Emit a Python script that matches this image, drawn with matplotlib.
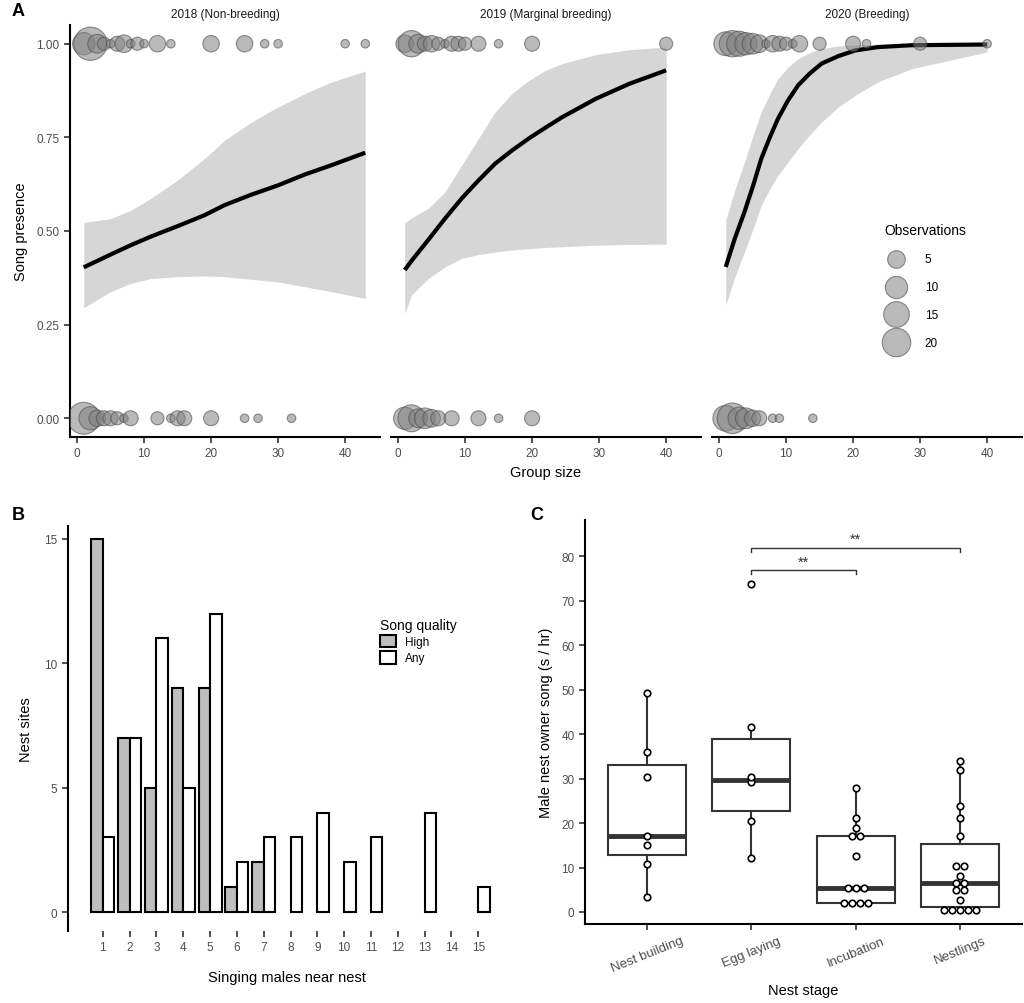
import numpy as np
import matplotlib
matplotlib.use('Agg')
import matplotlib.pyplot as plt
from matplotlib.patches import Patch

plt.rcParams['font.family'] = ['Liberation Sans', 'DejaVu Sans']

# ---------- panel A data ----------
years = ['2018 (Non-breeding)', '2019 (Marginal breeding)', '2020 (Breeding)']

fit18_x = [1, 5, 8, 11, 15, 19, 22, 26, 30, 34, 38, 43]
fit18_y = [0.403, 0.437, 0.462, 0.485, 0.513, 0.542, 0.569, 0.597, 0.622, 0.651, 0.676, 0.709]
fit18_hi = [0.523, 0.533, 0.555, 0.587, 0.636, 0.693, 0.742, 0.791, 0.831, 0.867, 0.898, 0.927]
fit18_lo = [0.295, 0.338, 0.360, 0.373, 0.378, 0.380, 0.378, 0.371, 0.364, 0.351, 0.338, 0.320]

fit19_x = [1, 2, 4.5, 7, 9.5, 12, 14.5, 17, 19.5, 22, 24.5, 29.5, 34.5, 40]
fit19_y = [0.396, 0.42, 0.476, 0.533, 0.587, 0.635, 0.680, 0.715, 0.747, 0.776, 0.804,
           0.853, 0.893, 0.929]
fit19_hi = [0.522, 0.535, 0.560, 0.604, 0.676, 0.747, 0.818, 0.867, 0.902, 0.929, 0.947,
            0.971, 0.984, 0.991]
fit19_lo = [0.280, 0.329, 0.373, 0.404, 0.427, 0.437, 0.444, 0.449, 0.453, 0.456, 0.458,
            0.462, 0.464, 0.465]

fit20_x = [1, 2.35, 3.8, 5.1, 6.3, 7.6, 8.8, 10.3, 11.8, 13.5, 15.3, 17.8, 20.3, 23.7, 28.7, 40]
fit20_y = [0.404, 0.480, 0.551, 0.622, 0.693, 0.751, 0.800, 0.849, 0.889, 0.920, 0.947,
           0.967, 0.982, 0.991, 0.996, 0.998]
fit20_hi = [0.529, 0.609, 0.684, 0.756, 0.818, 0.867, 0.907, 0.938, 0.960, 0.976, 0.987,
            0.994, 0.997, 0.999, 0.999, 0.999]
fit20_lo = [0.302, 0.377, 0.444, 0.507, 0.569, 0.613, 0.649, 0.684, 0.720, 0.756, 0.791,
            0.831, 0.862, 0.898, 0.933, 0.978]

# observations: group size, number of observations
yes18_x = [1, 2, 3, 4, 5, 6, 7, 8, 9, 10, 12, 14, 20, 25, 28, 30, 40, 43]
yes18_n = [10, 30, 6, 2, 1, 3, 5, 1, 2, 1, 4, 1, 4, 4, 1, 1, 1, 1]
no18_x = [1, 2, 3, 4, 5, 6, 7, 8, 12, 14, 15, 16, 20, 25, 27, 32]
no18_n = [27, 11, 4, 3, 3, 2, 1, 3, 2, 1, 3, 3, 3, 1, 1, 1]

yes19_x = [1, 2, 3, 4, 5, 6, 7, 8, 9, 10, 12, 15, 20, 40]
yes19_n = [5, 16, 6, 3, 4, 2, 1, 3, 3, 2, 3, 1, 3, 2]
no19_x = [1, 2, 3, 4, 5, 6, 8, 12, 15, 20]
no19_n = [10, 17, 6, 8, 5, 3, 3, 3, 1, 3]

yes20_x = [1, 2, 3, 4, 5, 6, 7, 8, 9, 10, 11, 12, 15, 20, 22, 30, 40]
yes20_n = [12, 16, 14, 10, 8, 5, 1, 4, 3, 2, 1, 4, 2, 3, 1, 2, 1]
no20_x = [1, 2, 3, 4, 5, 6, 8, 9, 14]
no20_n = [15, 24, 10, 8, 4, 3, 1, 1, 1]

legend_n = [5, 10, 15, 20]

# ---------- panel B data ----------
singers = list(range(1, 16))
high_q = [15, 7, 5, 9, 9, 1, 2, 0, 0, 0, 0, 0, 0, 0, 0]
any_q = [3, 7, 11, 5, 12, 2, 3, 3, 4, 2, 3, 0, 4, 0, 1]

# ---------- panel C data ----------
stages = ['Nest building', 'Egg laying', 'Incubation', 'Nestlings']
song_build = [3.3, 10.7, 15.0, 17.2, 30.3, 35.9, 49.2]
song_egg = [12.1, 20.5, 29.2, 30.4, 41.7, 73.7]
song_incub = [2.1, 2.1, 2.1, 2.1, 5.5, 5.5, 5.5, 12.7, 17.1, 17.1, 18.9, 21.1, 27.9]
song_nestl = [0.5, 0.5, 0.5, 0.5, 0.5, 2.8, 5.0, 5.0, 6.6, 6.6, 8.1, 10.3, 10.3,
              17.1, 21.1, 23.8, 32.0, 33.9]

DPI = 100
fig = plt.figure(figsize=(10.24, 10.04), dpi=DPI)

tick_col = '#4D4D4D'
line_col = '#333333'


def msize(n):
    d_px = 8.5 + 4.6 * np.sqrt(np.asarray(n, float) - 1)
    return (d_px * 72 / DPI) ** 2


def style_ax(ax):
    for s in ['top', 'right']:
        ax.spines[s].set_visible(False)
    for s in ['left', 'bottom']:
        ax.spines[s].set_linewidth(1.5)
        ax.spines[s].set_color('black')
    ax.tick_params(colors=line_col, labelcolor=tick_col, labelsize=8.5, length=4, width=1.2)


# ---------- panel A ----------
fits = [(fit18_x, fit18_y, fit18_lo, fit18_hi),
        (fit19_x, fit19_y, fit19_lo, fit19_hi),
        (fit20_x, fit20_y, fit20_lo, fit20_hi)]
obs = [(yes18_x, yes18_n, no18_x, no18_n),
       (yes19_x, yes19_n, no19_x, no19_n),
       (yes20_x, yes20_n, no20_x, no20_n)]
lefts = [70, 391, 712]
axA = []
for i in range(3):
    ax = fig.add_axes([lefts[i] / 1024, 1 - 438 / 1004, 310 / 1024, 412 / 1004])
    style_ax(ax)
    fx, fy, flo, fhi = fits[i]
    ax.fill_between(fx, flo, fhi, color='#D6D6D6', lw=0, zorder=1)
    ax.plot(fx, fy, color='black', lw=3, solid_capstyle='butt', solid_joinstyle='round',
            zorder=2)
    yx, yn, nx, nn = obs[i]
    for xs, ns, yv in [(yx, yn, 1.0), (nx, nn, 0.0)]:
        ax.scatter(xs, [yv] * len(xs), s=msize(ns), facecolor=(0.5, 0.5, 0.5, 0.55),
                   edgecolor=(0.3, 0.3, 0.3, 0.6), lw=0.8, zorder=3)
    ax.set_xlim(-1.05, 45.2)
    ax.set_ylim(-0.05, 1.05)
    ax.set_xticks([0, 10, 20, 30, 40])
    ax.set_yticks([0, 0.25, 0.5, 0.75, 1.0])
    ax.set_title(years[i], fontsize=8.5, pad=6, color='#1A1A1A')
    if i == 0:
        ax.set_yticklabels(['0.00', '0.25', '0.50', '0.75', '1.00'])
        ax.set_ylabel('Song presence', fontsize=10.5, labelpad=6)
    else:
        ax.spines['left'].set_visible(False)
        ax.tick_params(axis='y', left=False, labelleft=False)
    if i == 1:
        ax.set_xlabel('Group size', fontsize=10.5, labelpad=4)
    axA.append(ax)

handles = [axA[2].scatter([], [], s=msize(n), facecolor=(0.5, 0.5, 0.5, 0.55),
                          edgecolor=(0.3, 0.3, 0.3, 0.6), lw=0.8) for n in legend_n]
leg = axA[2].legend(handles, [str(n) for n in legend_n], title='Observations',
                    loc='upper left', bbox_to_anchor=(0.53, 0.54), frameon=False,
                    fontsize=8.5, title_fontsize=10, labelspacing=1.35, handletextpad=1.4,
                    borderpad=0.2)
leg._legend_box.align = 'left'

# ---------- panel B ----------
axB = fig.add_axes([68 / 1024, 1 - 932 / 1004, 437 / 1024, 405 / 1004])
style_ax(axB)
axB.spines['bottom'].set_visible(False)
xs = np.array(singers)
hq = np.array(high_q)
aq = np.array(any_q)
w = 0.43
axB.bar(xs[hq > 0] - w / 2, hq[hq > 0], width=w, color='#BEBEBE', edgecolor='black', lw=1.5)
axB.bar(xs[aq > 0] + w / 2, aq[aq > 0], width=w, color='white', edgecolor='black', lw=1.5)
axB.set_xlim(-0.3, 16.0)
axB.set_ylim(-0.76, 15.52)
axB.set_xticks(singers)
axB.set_yticks([0, 5, 10, 15])
axB.set_xlabel('Singing males near nest', fontsize=10.5, labelpad=12)
axB.set_ylabel('Nest sites', fontsize=10.5, labelpad=8)
legB = axB.legend([Patch(facecolor='#BEBEBE', edgecolor='black', lw=1.5),
                   Patch(facecolor='white', edgecolor='black', lw=1.5)],
                  ['High', 'Any'], title='Song quality', loc='upper left',
                  bbox_to_anchor=(0.69, 0.80), frameon=False, fontsize=8.5,
                  title_fontsize=10, handlelength=1.3, handleheight=1.3,
                  labelspacing=0.25, handletextpad=0.8)
legB._legend_box.align = 'left'

# ---------- panel C ----------
axC = fig.add_axes([585 / 1024, 1 - 925 / 1004, 437 / 1024, 404 / 1004])
style_ax(axC)
groups = [song_build, song_egg, song_incub, song_nestl]
pos = [1, 2, 3, 4]
axC.boxplot(groups, positions=pos, widths=0.75, showfliers=False, showcaps=False,
            patch_artist=True,
            boxprops=dict(facecolor='white', edgecolor=line_col, lw=1.5),
            whiskerprops=dict(color=line_col, lw=1.5),
            medianprops=dict(color=line_col, lw=3.5, solid_capstyle='butt'))
step = 0.077
for p, g in zip(pos, groups):
    vals, counts = np.unique(g, return_counts=True)
    for v, c in zip(vals, counts):
        offs = (np.arange(c) - (c - 1) / 2) * step
        axC.scatter(p + offs, [v] * c, s=22, facecolor='white', edgecolor='black',
                    lw=1.2, zorder=4)

for x0, x1, yb in [(2, 3, 77.0), (2, 4, 82.0)]:
    axC.plot([x0, x0, x1, x1], [yb - 0.9, yb, yb, yb - 0.9], color=line_col, lw=1)
    axC.text((x0 + x1) / 2, yb + 0.3, '**', ha='center', va='bottom', fontsize=10.5,
             color=line_col)
axC.set_xlim(0.4, 4.6)
axC.set_ylim(-2.7, 88.2)
axC.set_yticks(range(0, 81, 10))
axC.set_xticks(pos)
axC.set_xticklabels(stages, rotation=22, ha='center', fontsize=9.5)
axC.set_xlabel('Nest stage', fontsize=10.5, labelpad=6)
axC.set_ylabel('Male nest owner song (s / hr)', fontsize=10.5, labelpad=6)

# panel letters
fig.text(12 / 1024, 1 - 12 / 1004, 'A', fontsize=13, fontweight='bold', va='center')
fig.text(12 / 1024, 1 - 515 / 1004, 'B', fontsize=13, fontweight='bold', va='center')
fig.text(530 / 1024, 1 - 515 / 1004, 'C', fontsize=13, fontweight='bold', va='center')

fig.savefig('out.png', dpi=DPI)
